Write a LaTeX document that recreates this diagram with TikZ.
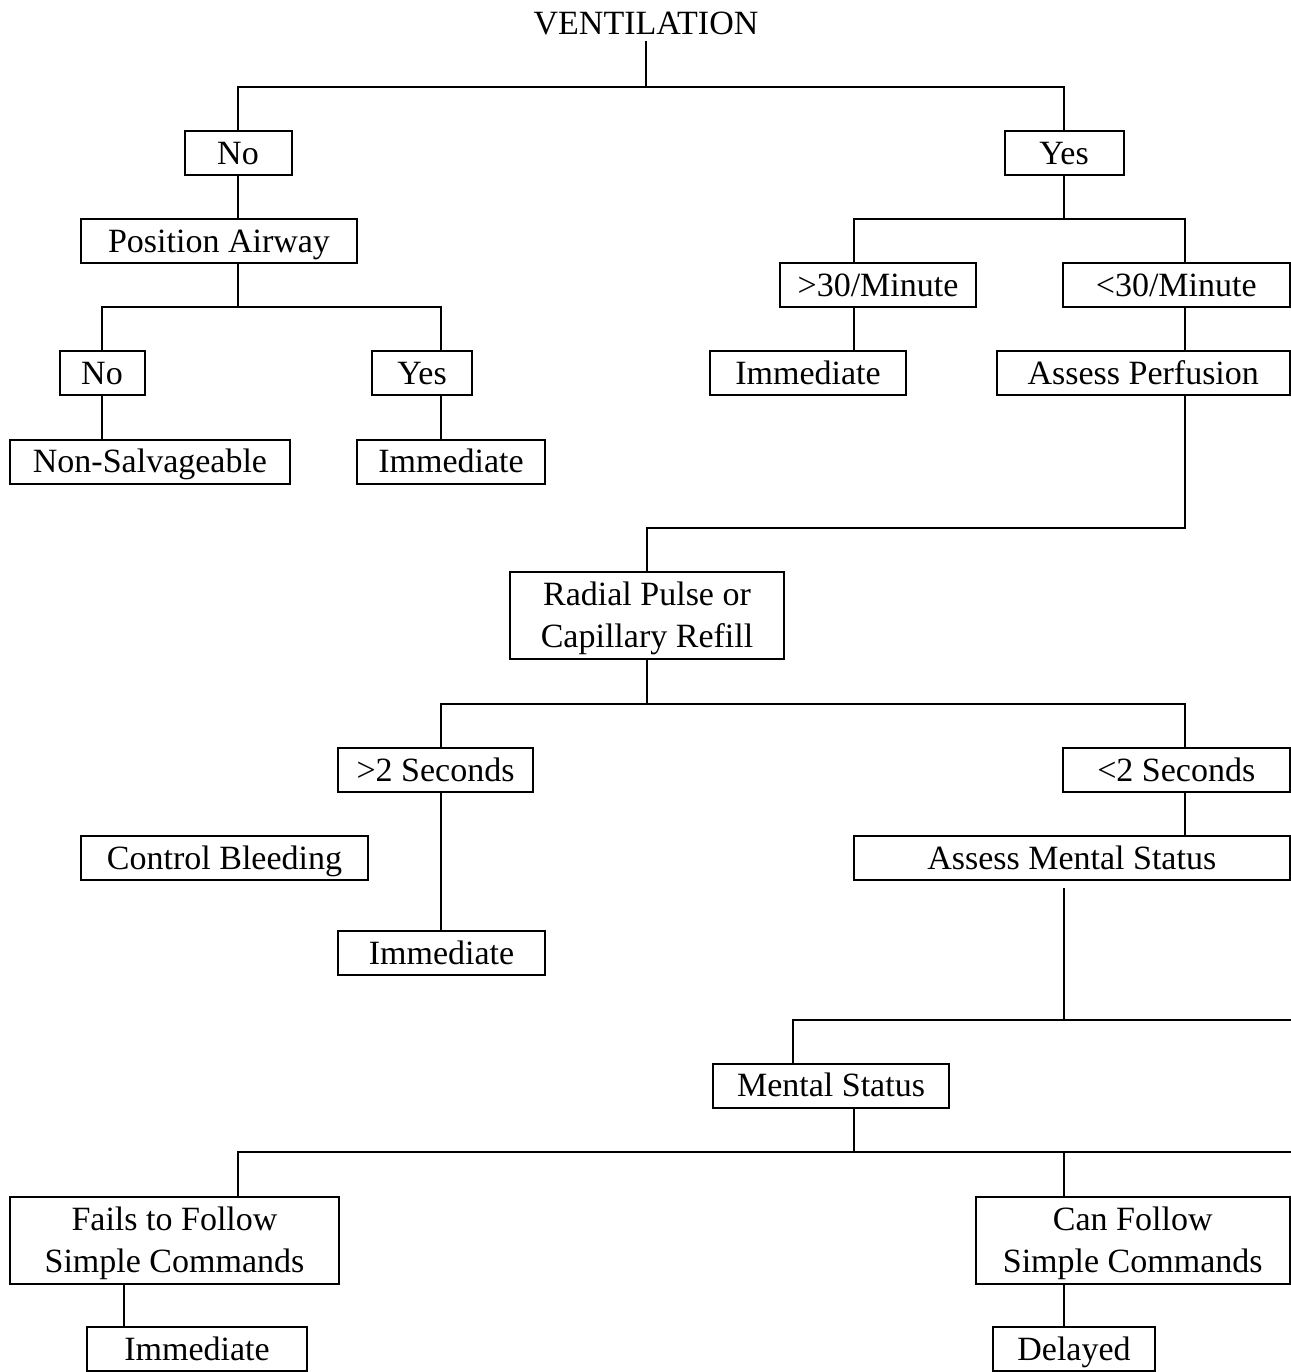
\documentclass[tikz,border=0pt]{standalone}
\usepackage{fontspec}
\setmainfont{Liberation Serif}
\begin{document}
\begin{tikzpicture}[x=0.5pt,y=-0.5pt,
  box/.style={draw,line width=1pt,inner sep=0pt,minimum height=22pt,font=\fontsize{17}{21}\selectfont,align=center,text height=13pt,text depth=2pt},
  tall/.style={minimum height=43.5pt,text height=34.25pt,text depth=2pt},
  conn/.style={line width=0.9pt}]
\useasboundingbox[fill=white] (0,0) rectangle (1291,1372);
% nodes
\node[font=\fontsize{17}{21}\selectfont,inner sep=0pt,minimum height=18pt] (vent) at (646,23) {VENTILATION};
\node[box,minimum width=53.5pt] (no1) at (238,153) {No};
\node[box,minimum width=59.5pt] (yes1) at (1064,153) {Yes};
\node[box,minimum width=138pt] (pa) at (219,241) {Position Airway};
\node[box,minimum width=42.5pt] (no2) at (102,373) {No};
\node[box,minimum width=50pt] (yes2) at (422,373) {Yes};
\node[box,minimum width=140pt] (ns) at (150,461.5) {Non-Salvageable};
\node[box,minimum width=94pt] (im1) at (451,461.5) {Immediate};
\node[box,minimum width=98pt] (gt30) at (878,285) {>30/Minute};
\node[box,minimum width=113.25pt] (lt30) at (1176.25,285) {<30/Minute};
\node[box,minimum width=98pt] (im2) at (808,373) {Immediate};
\node[box,minimum width=146.25pt] (ap) at (1143.25,373) {Assess Perfusion};
\node[box,tall,minimum width=137pt] (rad) at (647,615.5) {Radial Pulse or\\Capillary Refill};
\node[box,minimum width=97.5pt] (gt2) at (435.5,770) {>2 Seconds};
\node[box,minimum width=113.25pt] (lt2) at (1176.25,770) {<2 Seconds};
\node[box,minimum width=143.5pt] (cb) at (224.5,858) {Control Bleeding};
\node[box,minimum width=217.75pt] (ams) at (1071.75,858) {Assess Mental Status};
\node[box,minimum width=103.5pt] (im3) at (441.5,953) {Immediate};
\node[box,minimum width=118pt] (ms) at (831,1085.5) {Mental Status};
\node[box,tall,minimum width=164.5pt] (fails) at (174.5,1240.5) {Fails to Follow\\Simple Commands};
\node[box,tall,minimum width=156.75pt] (can) at (1132.75,1240.5) {Can Follow\\Simple Commands};
\node[box,minimum width=110pt] (im4) at (197,1349) {Immediate};
\node[box,minimum width=81pt] (del) at (1074,1349) {Delayed};
% junctions
\coordinate (j1) at (646,87);
\coordinate (j2) at (238,307);
\coordinate (j2r) at (441,307);
\coordinate (j3) at (1064,219);
\coordinate (j3l) at (854,219);
\coordinate (j3r) at (1185,219);
\coordinate (j4) at (1185,528);
\coordinate (j5) at (647,704);
\coordinate (j5l) at (441,704);
\coordinate (j5r) at (1185,704);
\coordinate (a1) at (1064,888);
\coordinate (j6) at (1064,1020);
\coordinate (j6l) at (793,1020);
\coordinate (e1) at (1291,1020);
\coordinate (j7) at (854,1152);
\coordinate (j7l) at (238,1152);
\coordinate (j7m) at (1064,1152);
\coordinate (e2) at (1291,1152);
\coordinate (k1) at (124,1284);
% connectors
\draw[conn] (vent.south) -- (j1);
\draw[conn] (no1.north) |- (j1) -| (yes1.north);
\draw[conn] (no1.south) -- (no1.south |- pa.north);
\draw[conn] (j2 |- pa.south) -- (j2);
\draw[conn] (no2.north) |- (j2r) -- (j2r |- yes2.north);
\draw[conn] (no2.south) -- (no2.south |- ns.north);
\draw[conn] (j2r |- yes2.south) -- (j2r |- im1.north);
\draw[conn] (yes1.south) -- (j3);
\draw[conn] (j3l |- gt30.north) |- (j3r) -- (j3r |- lt30.north);
\draw[conn] (j3l |- gt30.south) -- (j3l |- im2.north);
\draw[conn] (j3r |- lt30.south) -- (j3r |- ap.north);
\draw[conn] (j4 |- ap.south) -- (j4) -| (rad.north);
\draw[conn] (rad.south) -- (j5);
\draw[conn] (j5l |- gt2.north) |- (j5r) -- (j5r |- lt2.north);
\draw[conn] (j5l |- gt2.south) -- (j5l |- im3.north);
\draw[conn] (j5r |- lt2.south) -- (j5r |- ams.north);
\draw[conn] (a1) -- (j6);
\draw[conn] (j6l |- ms.north) |- (e1);
\draw[conn] (j7 |- ms.south) -- (j7);
\draw[conn] (j7l |- fails.north) |- (e2);
\draw[conn] (j7m) -- (j7m |- can.north);
\draw[conn] (k1 |- fails.south) -- (k1 |- im4.north);
\draw[conn] (j7m |- can.south) -- (j7m |- del.north);
\end{tikzpicture}
\end{document}
